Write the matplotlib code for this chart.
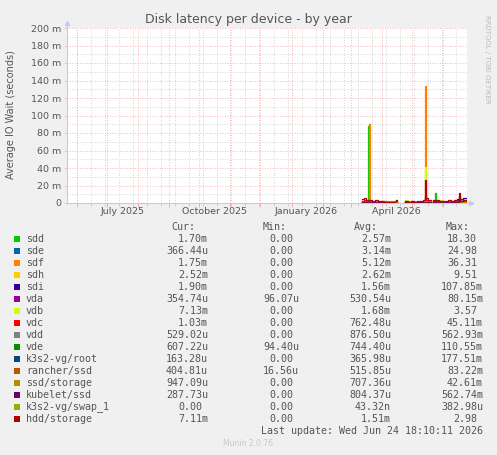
import numpy as np
import pandas as pd
import matplotlib
matplotlib.use('Agg')
import matplotlib.pyplot as plt
from matplotlib.patches import Rectangle

nan = np.nan

# sample dates (steps-post), NaN = no data
dates = pd.to_datetime([
    '2026-03-12', '2026-03-14', '2026-03-16', '2026-03-18', '2026-03-19',
    '2026-03-20', '2026-03-22', '2026-03-25', '2026-03-28', '2026-03-31',
    '2026-04-03', '2026-04-08', '2026-04-13', '2026-04-14', '2026-04-15',
    '2026-04-16', '2026-04-24', '2026-04-27', '2026-04-30', '2026-05-03',
    '2026-05-06', '2026-05-09', '2026-05-12', '2026-05-14', '2026-05-15',
    '2026-05-17', '2026-05-20', '2026-05-22', '2026-05-24', '2026-05-25',
    '2026-05-28', '2026-05-31', '2026-06-03', '2026-06-06', '2026-06-09',
    '2026-06-12', '2026-06-15', '2026-06-17', '2026-06-18', '2026-06-21',
    '2026-06-24'])

# values in milliseconds
sdd = [1.5, 2, 1.5, 88, 2, 1.5, 1, 1, 1, 1,
       0.5, 0.5, 0.5, nan, 1, nan, 1.5, 1, 1, 1,
       1, 1, 1.5, 6, 2, 1.5, nan, 1.5, 11, 2,
       1.5, 1, 1, 1.5, 1, 1.5, 2, 3, 1.5, 1.5, 1.5]
sde = [1, 1.5, 1, 1, 1, 1, 1, 0.5, 0.5, 0.5,
       0.3, 0.3, 0.3, nan, 0.5, nan, 0.5, 0.5, 0.5, 0.5,
       0.5, 0.5, 0.5, 2, 1, 0.5, nan, 0.5, 0.5, 0.5,
       0.5, 0.5, 0.5, 0.5, 0.5, 0.5, 1, 2, 1, 1, 1]
sdf = [2, 2.5, 2, 2, 90, 2, 1.5, 1.5, 1, 1,
       0.5, 0.5, 0.5, nan, 1, nan, 1, 1, 1, 1.5,
       1, 1.5, 2, 134, 3, 2, nan, 2, 3, 4,
       2, 1.5, 1.5, 2, 1.5, 2, 3, 5, 2, 2, 2]
sdh = [1, 1.5, 1, 1, 1, 1, 1, 1, 0.5, 0.5,
       0.5, 0.5, 0.5, nan, 0.5, nan, 2.5, 1.5, 1, 1,
       1, 1, 1.5, 5, 2, 1, nan, 1.5, 2, 1.5,
       4, 1.5, 1, 3, 1, 1.5, 2, 3, 2, 1.5, 1.5]
sdi = [0.5, 0.5, 0.5, 0.5, 0.5, 0.5, 0.5, 0.5, 0.5, 0.5,
       0.3, 0.3, 0.3, nan, 0.5, nan, 0.5, 0.5, 0.5, 0.5,
       0.5, 0.5, 0.5, 1, 0.5, 0.5, nan, 0.5, 0.5, 0.5,
       0.5, 0.5, 1, 1, 1.5, 2, 5, 3, 2, 6, 6]
vda = [0.5, 0.5, 0.5, 0.5, 0.5, 0.5, 0.5, 0.5, 0.5, 0.5,
       0.5, 0.5, 0.5, nan, 0.5, nan, 0.5, 0.5, 0.5, 0.5,
       0.5, 0.5, 0.5, 0.5, 0.5, 0.5, nan, 0.5, 0.5, 0.5,
       0.5, 0.5, 0.5, 0.5, 0.5, 0.5, 0.5, 1, 0.5, 0.5, 0.5]
vdb = [1, 1.5, 1, 1, 1, 1, 1, 1, 1, 1,
       0.5, 0.5, 0.5, nan, 1, nan, 3, 2, 1.5, 1,
       1.5, 1, 2, 41, 3, 1.5, nan, 2, 2, 1.5,
       1.5, 1, 1.5, 1, 1, 1.5, 2, 2, 1.5, 1.5, 1.5]
vdc = [2, 3, 2, 1.5, 2, 1.5, 1.5, 1.5, 1, 1,
       0.5, 0.5, 0.5, nan, 1, nan, 1.5, 1, 1.5, 1,
       1, 1.5, 1.5, 8, 3, 1.5, nan, 2, 1.5, 2,
       1.5, 1.5, 1, 1.5, 1.5, 2, 2.5, 4, 2, 2, 2]
vdd = [1, 1, 1, 1, 1, 1, 1, 1, 0.5, 0.5,
       0.5, 0.5, 0.5, nan, 0.5, nan, 0.5, 0.5, 0.5, 0.5,
       0.5, 0.5, 0.5, 2, 1, 0.5, nan, 1, 1, 1,
       0.5, 0.5, 0.5, 0.5, 0.5, 0.5, 1, 1.5, 1, 1, 1]
vde = [0.8, 0.8, 0.8, 0.8, 0.8, 0.8, 0.7, 0.7, 0.7, 0.7,
       0.5, 0.5, 0.5, nan, 0.7, nan, 0.7, 0.7, 0.7, 0.7,
       0.7, 0.7, 0.7, 1.5, 0.8, 0.7, nan, 0.7, 0.7, 0.7,
       0.7, 0.7, 0.7, 0.7, 0.7, 0.7, 0.8, 1.5, 0.8, 0.8, 0.8]
k3s2_root = [0.4, 0.4, 0.4, 0.4, 0.4, 0.4, 0.4, 0.4, 0.4, 0.4,
             0.3, 0.3, 0.3, nan, 0.4, nan, 0.4, 0.4, 0.4, 0.4,
             0.4, 0.4, 0.4, 1, 0.4, 0.4, nan, 0.4, 0.4, 0.4,
             0.4, 0.4, 0.4, 0.4, 0.4, 0.4, 0.4, 0.8, 0.4, 0.4, 0.4]
rancher_ssd = [0.6, 0.6, 0.6, 0.6, 0.6, 0.6, 0.5, 0.5, 0.5, 0.5,
               0.5, 0.5, 0.5, nan, 0.5, nan, 0.5, 0.5, 0.5, 0.5,
               0.5, 0.5, 0.5, 1.5, 0.6, 0.5, nan, 0.5, 0.5, 0.5,
               0.5, 0.5, 0.5, 0.5, 0.5, 0.5, 0.6, 1.2, 0.6, 0.5, 0.5]
ssd_storage = [1, 1, 1, 1, 1, 1, 1, 1, 1, 1,
               2, 2, 2, nan, 1, nan, 1, 1, 1, 1,
               1, 1, 1, 2, 1, 1, nan, 1, 1, 1,
               1, 1, 1, 1, 1, 1, 1, 2, 1, 1, 1]
kubelet_ssd = [0.8, 0.8, 0.8, 0.8, 0.8, 0.8, 0.8, 0.8, 0.8, 0.8,
               0.5, 0.5, 0.5, nan, 2, nan, 0.8, 0.8, 0.8, 0.8,
               0.8, 0.8, 0.8, 1.5, 0.8, 0.8, nan, 0.8, 0.8, 0.8,
               0.8, 0.8, 0.8, 0.8, 0.8, 1, 1.5, 8, 2, 4, 4]
k3s2_swap = [0, 0, 0, 0, 0, 0, 0, 0, 0, 0,
             0, 0, 0, nan, 0, nan, 0, 0, 0, 0,
             0, 0, 0, 0, 0, 0, nan, 0, 0, 0,
             0, 0, 0, 0, 0, 0, 0, 0, 0, 0, 0]
hdd_storage = [4.5, 5.5, 3.5, 3, 4, 3, 2.5, 3, 2, 2.5,
               1, 1, 1.5, nan, 3, nan, 2, 1.5, 2.5, 1.5,
               2, 2.5, 3, 26, 6, 3, nan, 3.5, 2.5, 3,
               2, 2.5, 2, 3, 2.5, 3, 4, 11, 5, 3.5, 3.5]

names = ['sdd', 'sde', 'sdf', 'sdh', 'sdi', 'vda', 'vdb', 'vdc', 'vdd', 'vde',
         'k3s2-vg/root', 'rancher/ssd', 'ssd/storage', 'kubelet/ssd',
         'k3s2-vg/swap_1', 'hdd/storage']
series = [sdd, sde, sdf, sdh, sdi, vda, vdb, vdc, vdd, vde,
          k3s2_root, rancher_ssd, ssd_storage, kubelet_ssd, k3s2_swap, hdd_storage]
colors = ['#00CC00', '#0066B3', '#FF8000', '#FFCC00', '#330099', '#990099',
          '#CCFF00', '#FF0000', '#808080', '#008F00', '#00487D', '#B35A00',
          '#B38F00', '#6B006B', '#8FB300', '#B30000']

cur = ['1.70m', '366.44u', '1.75m', '2.52m', '1.90m', '354.74u', '7.13m', '1.03m',
       '529.02u', '607.22u', '163.28u', '404.81u', '947.09u', '287.73u', '0.00', '7.11m']
mins = ['0.00', '0.00', '0.00', '0.00', '0.00', '96.07u', '0.00', '0.00',
        '0.00', '94.40u', '0.00', '16.56u', '0.00', '0.00', '0.00', '0.00']
avgs = ['2.57m', '3.14m', '5.12m', '2.62m', '1.56m', '530.54u', '1.68m', '762.48u',
        '876.50u', '744.40u', '365.98u', '515.85u', '707.36u', '804.37u', '43.32n', '1.51m']
maxs = ['18.30', '24.98', '36.31', '9.51', '107.85m', '80.15m', '3.57', '45.11m',
        '562.93m', '110.55m', '177.51m', '83.22m', '42.61m', '562.74m', '382.98u', '2.98']

month_starts = pd.date_range('2025-06-01', '2026-06-01', freq='MS')
minor_days = pd.date_range('2025-06-01', '2026-06-24', freq='14D')
x_labels = ['July 2025', 'October 2025', 'January 2026', 'April 2026']
x_label_pos = pd.to_datetime(['2025-07-16', '2025-10-16', '2026-01-16', '2026-04-16'])

W, H = 497, 455
fig = plt.figure(figsize=(W / 100, H / 100), dpi=100, facecolor='#F0F0F0')
ax = fig.add_axes([67 / W, 1 - 203 / H, 400 / W, 175 / H])
ax.set_facecolor('white')

txt = '#555555'

# grid
for d in minor_days:
    ax.axvline(d, color='#C8C8C8', lw=0.6, ls=(0, (1, 2)), zorder=1)
for d in month_starts:
    ax.axvline(d, color='#F0A0A0', lw=0.6, ls=(0, (1, 2)), zorder=1)
for v in range(10, 201, 20):
    ax.axhline(v, color='#C8C8C8', lw=0.6, ls=(0, (1, 2)), zorder=1)
for v in range(20, 201, 20):
    ax.axhline(v, color='#F0A0A0', lw=0.6, ls=(0, (1, 2)), zorder=1)

for vals, c in zip(series, colors):
    ax.plot(dates, vals, color=c, lw=0.9, drawstyle='steps-post', zorder=3)

ax.set_xlim(pd.Timestamp('2025-05-22'), pd.Timestamp('2026-06-25'))
ax.set_ylim(0, 200)

for s in ['top', 'right']:
    ax.spines[s].set_visible(False)
for s in ['left', 'bottom']:
    ax.spines[s].set_color('#C8C8F0')
    ax.spines[s].set_linewidth(0.8)
ax.plot([1.01], [0], marker='>', color='#C8C8F0', ms=3, transform=ax.transAxes, clip_on=False)
ax.plot([0], [1.03], marker='^', color='#C8C8F0', ms=3, transform=ax.transAxes, clip_on=False)
ax.plot([0, 0], [1, 1.03], color='#C8C8F0', lw=0.8, transform=ax.transAxes, clip_on=False)
ax.plot([1, 1.01], [0, 0], color='#C8C8F0', lw=0.8, transform=ax.transAxes, clip_on=False)

ax.set_xticks(month_starts)
ax.set_xticks(minor_days, minor=True)
ax.tick_params(axis='x', which='major', length=3, width=0.6, color='#F0A0A0', labelbottom=False)
ax.tick_params(axis='x', which='minor', length=2, width=0.6, color='#C8C8C8')
ax.set_yticks(range(0, 201, 20))
ax.set_yticklabels(['0'] + ['%d m' % v for v in range(20, 201, 20)])
ax.tick_params(axis='y', length=2, width=0.6, color='#C8C8C8', labelsize=6.8,
               labelcolor=txt, pad=2)

for lab, d in zip(x_labels, x_label_pos):
    ax.text(d, -0.05, lab, transform=ax.get_xaxis_transform(), ha='center', va='center',
            fontsize=6.8, color=txt)

fig.text(248 / W, 1 - 19 / H, 'Disk latency per device - by year', ha='center', va='center',
         fontsize=9.0, color='#555555')
fig.text(11 / W, 1 - 115 / H, 'Average IO Wait (seconds)', rotation=90, ha='center',
         va='center', fontsize=7, color=txt)
fig.text(487 / W, 1 - 15 / H, 'RRDTOOL / TOBI OETIKER', rotation=270, ha='center', va='top',
         fontsize=5, color='#BBBBBB')

# legend
mono = 'DejaVu Sans Mono'
fs = 7.2
cw = 6.0
def ftext(x, y, s, ha='left', **kw):
    fig.text(x / W, 1 - y / H, s, ha=ha, va='center', family=mono, fontsize=fs, color=txt, **kw)

for x, h in zip([195, 287, 378, 470], ['Cur:', 'Min:', 'Avg:', 'Max:']):
    ftext(x, 227, h, ha='right')

def right_val(edge, y, s):
    x = edge if s[-1].isalpha() else edge - cw
    ftext(x, y, s, ha='right')

for i, name in enumerate(names):
    y = 239 + 12 * i
    fig.patches.append(Rectangle((13.5 / W, 1 - (y + 3) / H), 6 / W, 6 / H,
                                 transform=fig.transFigure, facecolor=colors[i],
                                 edgecolor='none'))
    ftext(26, y, name)
    right_val(208, y, cur[i])
    right_val(299, y, mins[i])
    right_val(391, y, avgs[i])
    right_val(483, y, maxs[i])

ftext(483, 431, 'Last update: Wed Jun 24 18:10:11 2026', ha='right')
fig.text(248 / W, 1 - 444 / H, 'Munin 2.0.76', ha='center', va='center', fontsize=5.5,
         color='#C8C8C8')

fig.savefig('out.png', dpi=100, facecolor=fig.get_facecolor())
